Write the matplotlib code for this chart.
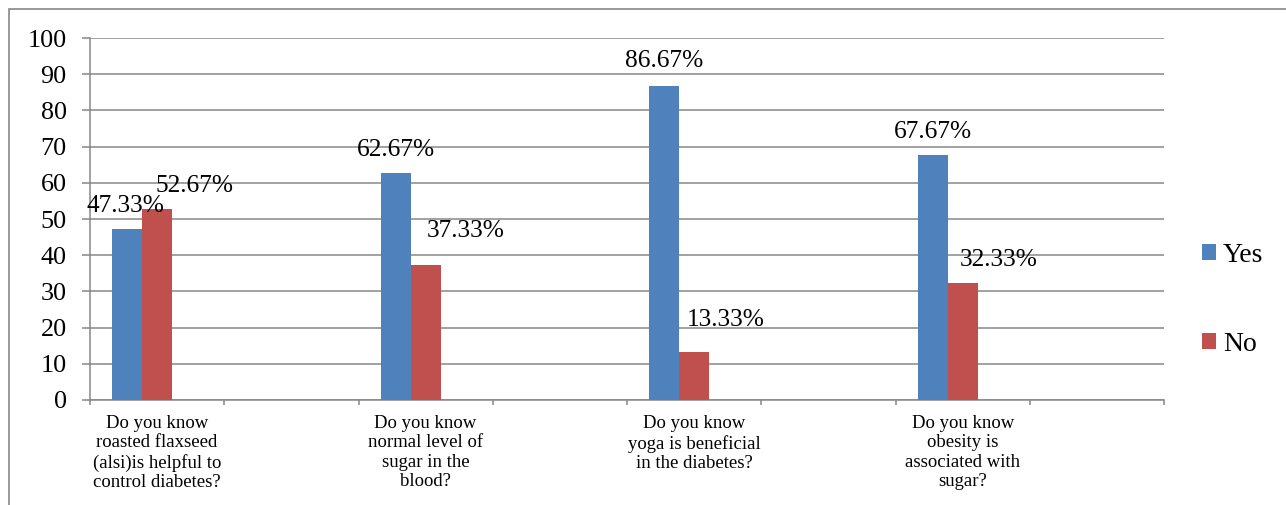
import numpy as np
import matplotlib.pyplot as plt
from matplotlib.patches import Rectangle

plt.rcParams['font.family'] = ['Liberation Serif', 'DejaVu Serif']

questions = [
    "Do you know\nroasted flaxseed\n(alsi)is helpful to\ncontrol diabetes?",
    "Do you know\nnormal level of\nsugar in the\nblood?",
    "Do you know\nyoga is beneficial\nin the diabetes?",
    "Do you know\nobesity is\nassociated with\nsugar?",
]
yes = [47.33, 62.67, 86.67, 67.67]
no = [52.67, 37.33, 13.33, 32.33]
yticks = np.arange(0, 101, 10)

# label nudges (pixels): Excel pushed the "No" labels to the right
yes_off = [(-2, 17), (0, 17), (0, 19), (0, 17)]
no_off = [(37, 17), (40, 28), (32, 26), (36, 17)]

W, H = 1286, 505
fig = plt.figure(figsize=(W / 100, H / 100), dpi=100)
ax = fig.add_axes([90 / W, 1 - 400 / H, (1164 - 90) / W, (400 - 38) / H])

# 8 category slots, every other one is empty; 3 bar slots per category (third empty)
x = np.arange(len(questions)) * 2
w = 1 / 4.5
grey = '#878787'

bars_yes = ax.bar(x - w, yes, w, color='#4F81BD', label='Yes', zorder=3)
bars_no = ax.bar(x, no, w, color='#C0504D', label='No', zorder=3)

for bars, vals, offs in [(bars_yes, yes, yes_off), (bars_no, no, no_off)]:
    for b, v, (dx, dy) in zip(bars, vals, offs):
        ax.annotate(f'{v:.2f}%', (b.get_x() + b.get_width() / 2, v),
                    xytext=(dx, dy), textcoords='offset pixels',
                    ha='center', va='baseline', fontsize=18.3, zorder=4)

ax.set_xlim(-0.5, 7.5)
ax.set_ylim(0, 100)
ax.set_yticks(yticks)
ax.tick_params(axis='y', labelsize=18.8, length=5.8, width=1.1, color=grey, pad=11)
ax.set_xticks(x)
ax.set_xticklabels(questions, fontsize=13.5, linespacing=1.17)
ax.set_xticks(np.arange(-0.5, 8, 1), minor=True)
ax.tick_params(axis='x', which='major', length=0, pad=11)
ax.tick_params(axis='x', which='minor', length=3.6, width=1.1, color=grey)

ax.yaxis.grid(True, color=grey, linewidth=1.1)
ax.set_axisbelow(True)
for s in ['top', 'right']:
    ax.spines[s].set_visible(False)
for s in ['left', 'bottom']:
    ax.spines[s].set_color(grey)
    ax.spines[s].set_linewidth(1.1)

fig.legend(loc='center left', bbox_to_anchor=(1202 / W, 1 - 300 / H),
           frameon=False, fontsize=20, handlelength=0.5, handleheight=0.5,
           handletextpad=0.25, labelspacing=2.3, borderpad=0, borderaxespad=0)

# chart area border
fig.patches.append(Rectangle((9 / W, -0.1), 1.2, 1 - 9 / H + 0.1,
                             transform=fig.transFigure, fill=False,
                             edgecolor='#888888', linewidth=1.2))

fig.savefig('out.png', dpi=100)
